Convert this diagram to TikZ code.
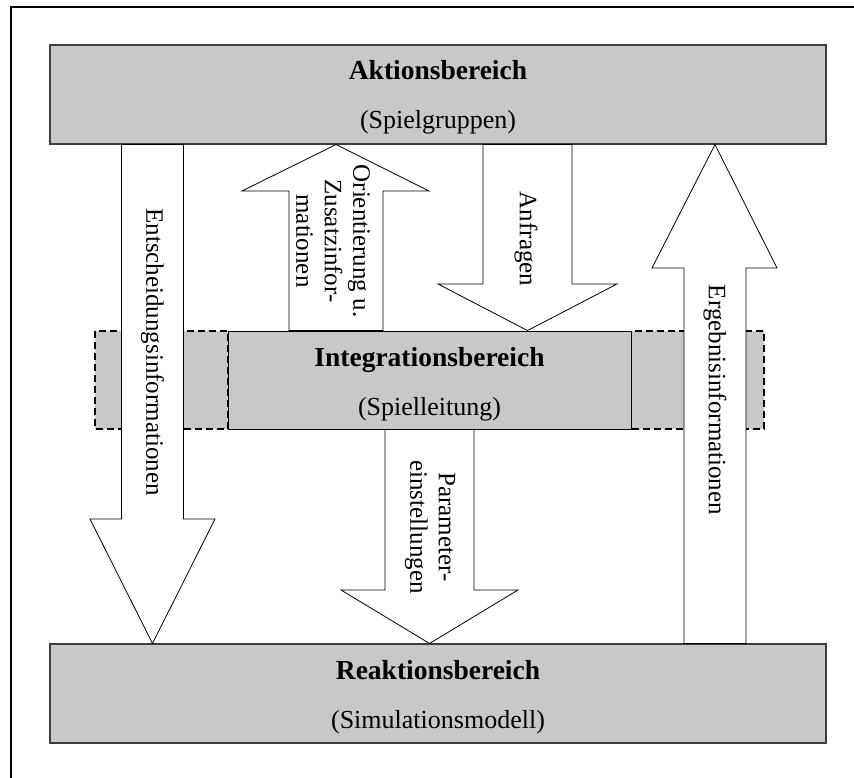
\documentclass[tikz,border=0pt]{standalone}
\usepackage{fontspec}
\setmainfont{Liberation Serif}
\usetikzlibrary{calc}
\definecolor{boxfill}{RGB}{200,200,200}
\definecolor{boxedge}{RGB}{60,60,60}
\tikzset{
  area/.style={fill=boxfill, draw=boxedge, line width=1.1pt, inner sep=0pt},
  mainarea/.style={fill=boxfill, draw=black, line width=0.9pt, inner sep=0pt},
  ext/.style={fill=boxfill, draw=black, line width=1.4pt, dash pattern=on 7pt off 4pt},
  blockarrow/.style={fill=white, draw=black, line width=0.8pt, line join=miter},
  title/.style={font=\fontsize{27.5}{32}\selectfont\bfseries, anchor=base, inner sep=0pt},
  subtitle/.style={font=\fontsize{26}{30}\selectfont, anchor=base, inner sep=0pt},
  flowlabel/.style={font=\fontsize{25}{28.5}\selectfont, rotate=-90, align=center, inner sep=0pt}
}
\begin{document}
\begin{tikzpicture}[x=1pt, y=-1pt]
  \useasboundingbox (0,0) rectangle (854,778);

  % outer frame (top and left edges)
  \draw[line width=2.5pt] (11,778) -- (11,7) -- (854,7);

  % the three areas
  \node[area, minimum width=776pt, minimum height=99pt] (akt) at (438,94.5) {};
  \node[area, minimum width=776pt, minimum height=99pt] (reak) at (438,693.5) {};

  % extended integration area (dashed)
  \draw[ext] (95,331) rectangle (228,429);
  \draw[ext] (631,331) rectangle (764,429);
  \node[mainarea, minimum width=403pt, minimum height=98pt] (integ) at (429.5,380) {};

  % area captions
  \node[title] (aktT) at (438,80) {Aktionsbereich};
  \node[subtitle] (aktS) at (438,129) {(Spielgruppen)};
  \node[title] (integT) at (429.5,366) {Integrationsbereich};
  \node[subtitle] (integS) at (429.5,415) {(Spielleitung)};
  \node[title] (reakT) at (438,679) {Reaktionsbereich};
  \node[subtitle] (reakS) at (438,728) {(Simulationsmodell)};

  % block arrows
  % Entscheidungsinformationen: Aktionsbereich -> Reaktionsbereich
  \draw[blockarrow] (121.5,0 |- akt.south) -- (183.5,0 |- akt.south) -- (183.5,519)
    -- (215,519) -- (152.5,0 |- reak.north) -- (90,519) -- (121.5,519) -- cycle;
  % Orientierung: Integrationsbereich -> Aktionsbereich
  \draw[blockarrow] (289,0 |- integ.north) -- (383,0 |- integ.north) -- (383,191)
    -- (429,191) -- (336,0 |- akt.south) -- (242,191) -- (289,191) -- cycle;
  % Anfragen: Aktionsbereich -> Integrationsbereich
  \draw[blockarrow] (483,0 |- akt.south) -- (572,0 |- akt.south) -- (572,284)
    -- (617,284) -- (527.5,0 |- integ.north) -- (438,284) -- (483,284) -- cycle;
  % Ergebnisinformationen: Reaktionsbereich -> Aktionsbereich
  \draw[blockarrow] (684,0 |- reak.north) -- (746,0 |- reak.north) -- (746,268)
    -- (777,268) -- (715,0 |- akt.south) -- (652,268) -- (684,268) -- cycle;
  % Parametereinstellungen: Integrationsbereich -> Reaktionsbereich
  \draw[blockarrow] (385,0 |- integ.south) -- (474,0 |- integ.south) -- (474,590)
    -- (518,590) -- (429.5,0 |- reak.north) -- (341,590) -- (385,590) -- cycle;

  % arrow labels
  \node[flowlabel] (lblE) at (152.5,352) {Entscheidungsinformationen};
  \node[flowlabel] (lblO) at (333,241) {Orientierung u.\\Zusatzinfor-\\mationen};
  \node[flowlabel] (lblA) at (526,239) {Anfragen};
  \node[flowlabel] (lblP) at (430,527) {Parameter-\\einstellungen};
  \node[flowlabel] (lblR) at (715,400) {Ergebnisinformationen};
\end{tikzpicture}
\end{document}
